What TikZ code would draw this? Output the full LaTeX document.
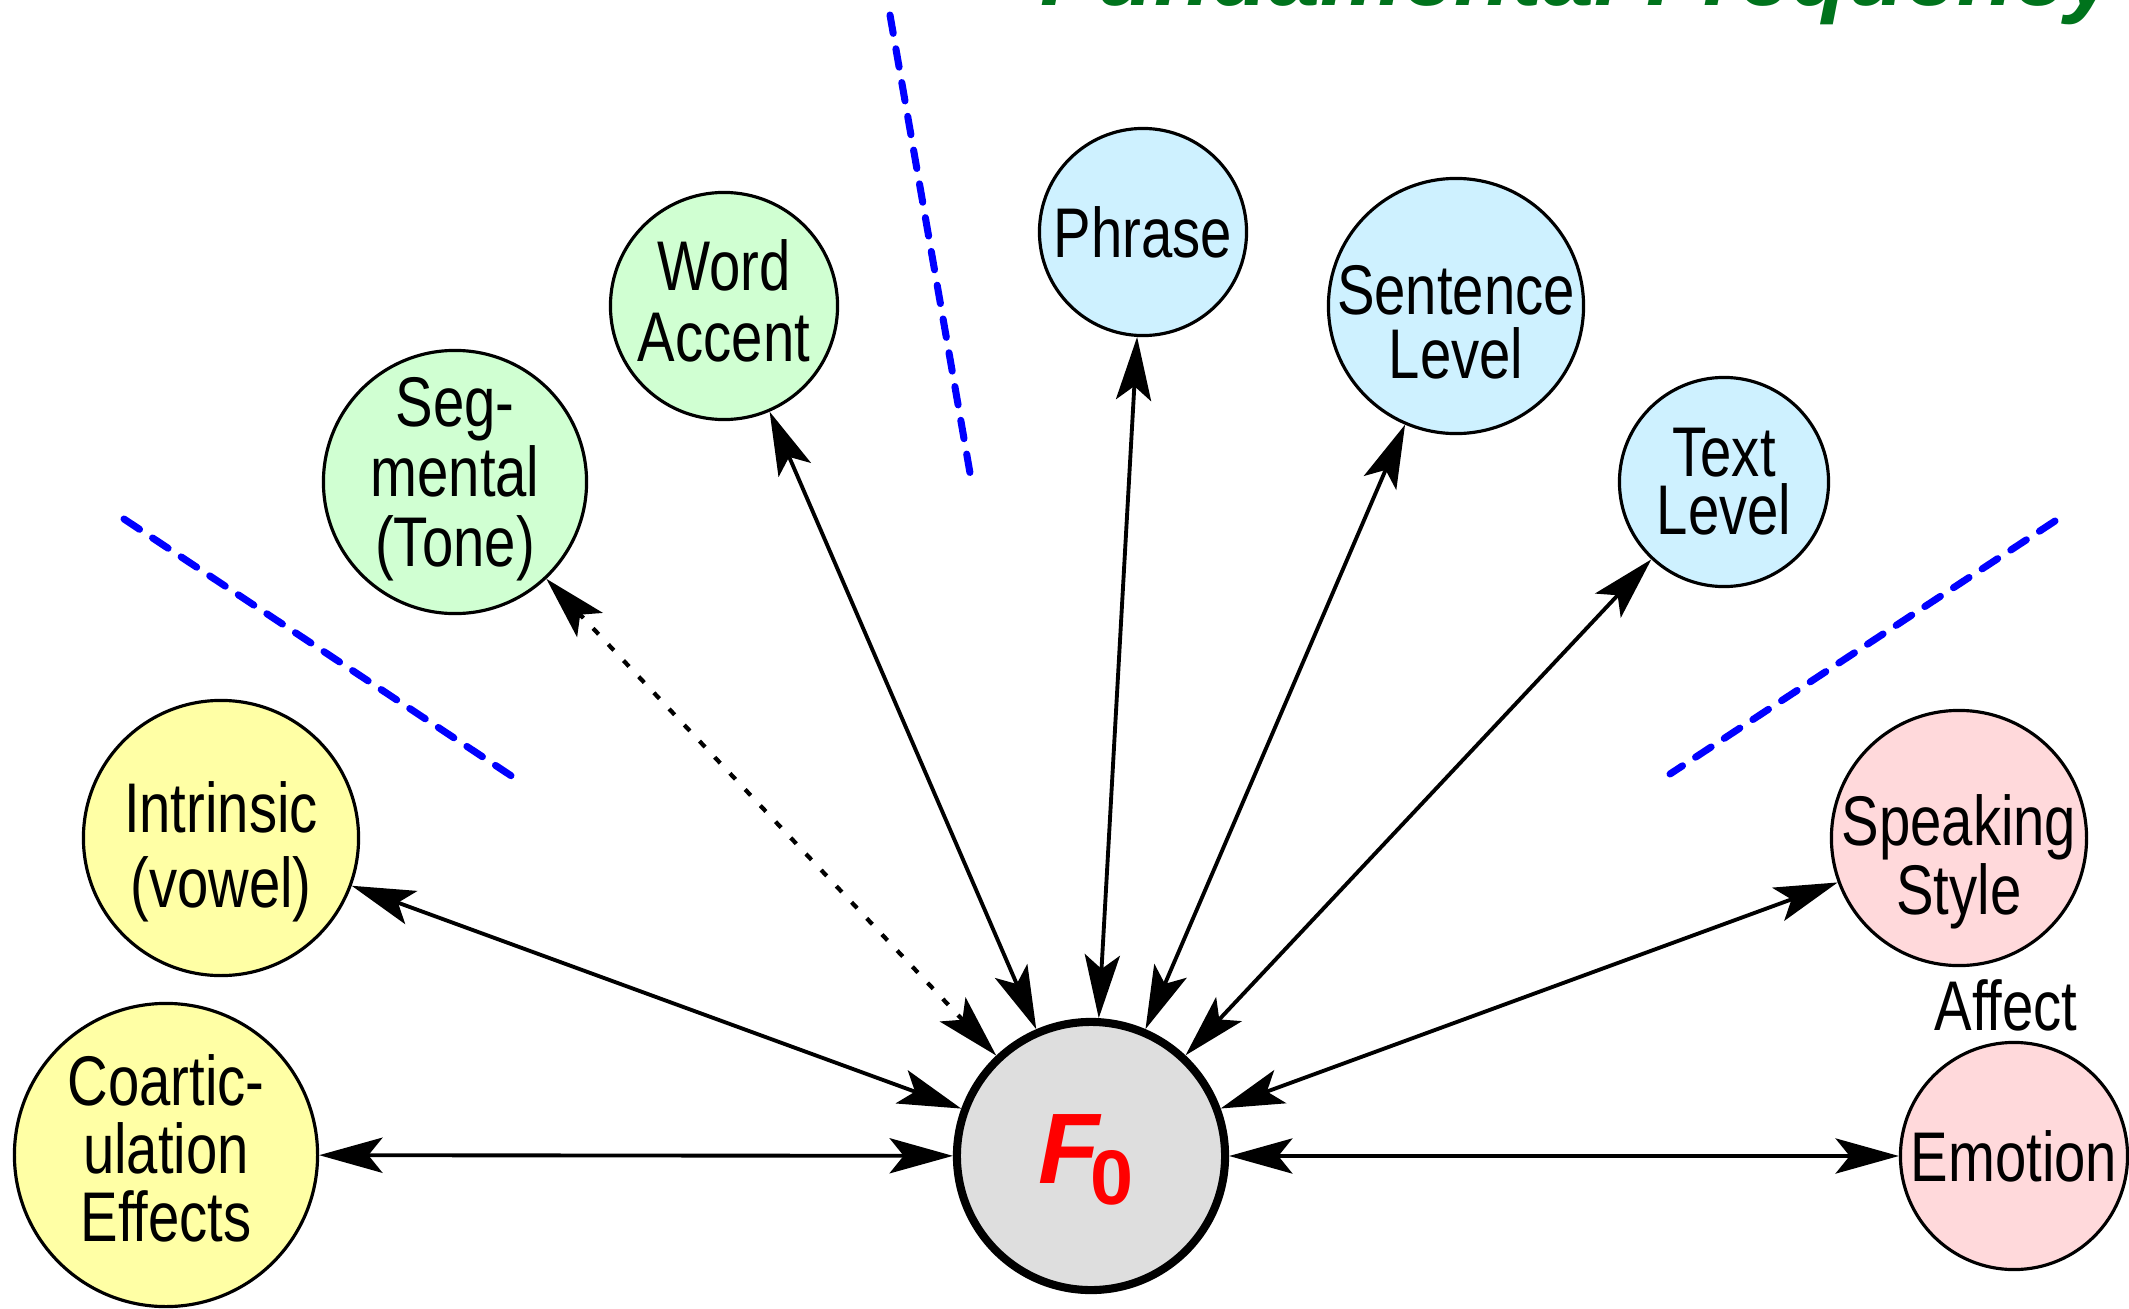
\documentclass[tikz,border=0pt]{standalone}
\usepackage{fontspec}
\setmainfont{Liberation Sans}[FakeStretch=0.8]
\newfontfamily\fzerofont{Liberation Sans}
\newfontfamily\titlefont{Liberation Sans}
\usetikzlibrary{arrows.meta}
\definecolor{cyellow}{RGB}{255,255,165}
\definecolor{cgreen}{RGB}{208,255,210}
\definecolor{cblue}{RGB}{206,241,255}
\definecolor{cpink}{RGB}{255,217,219}
\definecolor{cgrey}{RGB}{222,222,222}
\definecolor{ctitle}{RGB}{0,115,28}
\tikzset{
  bubble/.style={circle, draw=black, line width=0.9pt, inner sep=0pt},
  txt/.style={inner sep=0pt, align=center, font=\fontsize{20}{#1}\selectfont},
  txt/.default=20.5,
  tip/.tip={Stealth[length=18pt,width=10pt,inset=4pt]},
  biarrow/.style={line width=1.1pt, tip-tip},
  dotarrow/.style={line width=1.2pt, tip-tip, dash pattern=on 2.3pt off 4pt},
  bluedash/.style={draw=blue, line width=2pt, line cap=round, dash pattern=on 5.3pt off 4.45pt},
}
\begin{document}
\begin{tikzpicture}[x=0.01cm,y=-0.01cm]
\useasboundingbox (0,0) rectangle (2129,1309);
% title (cut off at top)
\node[anchor=base west, inner sep=0pt, text=ctitle, font=\titlefont\bfseries\itshape\fontsize{26.5}{26.5}\selectfont] (title) at (1040,5) {Fundamental Frequency};
% blue dashed separators
\draw[bluedash] (124,519) -- (513,777);
\draw[bluedash] (890,15) -- (970,473);
\draw[bluedash] (2055,521) -- (1670,774);
% nodes
\node[bubble, fill=cgrey, line width=2.3pt, minimum size=2.68cm] (f0) at (1091,1156) {};
\node[bubble, fill=cyellow, minimum size=3.03cm] (coart) at (166,1155) {};
\node[bubble, fill=cyellow, minimum size=2.75cm] (intr) at (221,838) {};
\node[bubble, fill=cgreen, minimum size=2.63cm] (seg) at (455,482) {};
\node[bubble, fill=cgreen, minimum size=2.27cm] (word) at (724,306) {};
\node[bubble, fill=cblue, minimum size=2.07cm] (phrase) at (1143,232) {};
\node[bubble, fill=cblue, minimum size=2.55cm] (sent) at (1456,306) {};
\node[bubble, fill=cblue, minimum size=2.09cm] (text) at (1724,482) {};
\node[bubble, fill=cpink, minimum size=2.55cm] (speak) at (1959,838) {};
\node[bubble, fill=cpink, minimum size=2.27cm] (emo) at (2014,1156) {};
% labels
\node[inner sep=0pt] (f0t) at (1086,1160)
  {\fzerofont\color{red}\fontsize{28.5}{28.5}\selectfont\bfseries\itshape F\kern-2.5pt\raisebox{-6pt}{\upshape\fontsize{22}{22}\selectfont 0}};
\node[txt=19.3] (coartt) at (166,1148) {Coartic-\\ulation\\Effects};
\node[txt=21.3] (intrt) at (221,852) {Intrinsic\\(vowel)};
\node[txt=19.9] (segt) at (455,479) {Seg-\\mental\\(Tone)};
\node[txt=20.2] (wordt) at (724,301) {Word\\Accent};
\node[txt] (phraset) at (1143,232) {Phrase};
\node[txt=18.2] (sentt) at (1456,322) {Sentence\\Level};
\node[txt=16.5] (textt) at (1724,482) {Text\\Level};
\node[txt=18.2] (speakt) at (1959,862) {Speaking\\Style};
\node[txt] (emot) at (2014,1156) {Emotion};
\node[txt] (affect) at (2006,1005) {Affect};
% connectors
\draw[biarrow] (f0) -- (coart);
\draw[biarrow] (f0) -- (intr);
\draw[dotarrow] (f0) -- (seg);
\draw[biarrow] (f0) -- (word);
\draw[biarrow] (f0) -- (phrase);
\draw[biarrow] (f0) -- (sent);
\draw[biarrow] (f0) -- (text);
\draw[biarrow] (f0) -- (speak);
\draw[biarrow] (f0) -- (emo);
\end{tikzpicture}
\end{document}
